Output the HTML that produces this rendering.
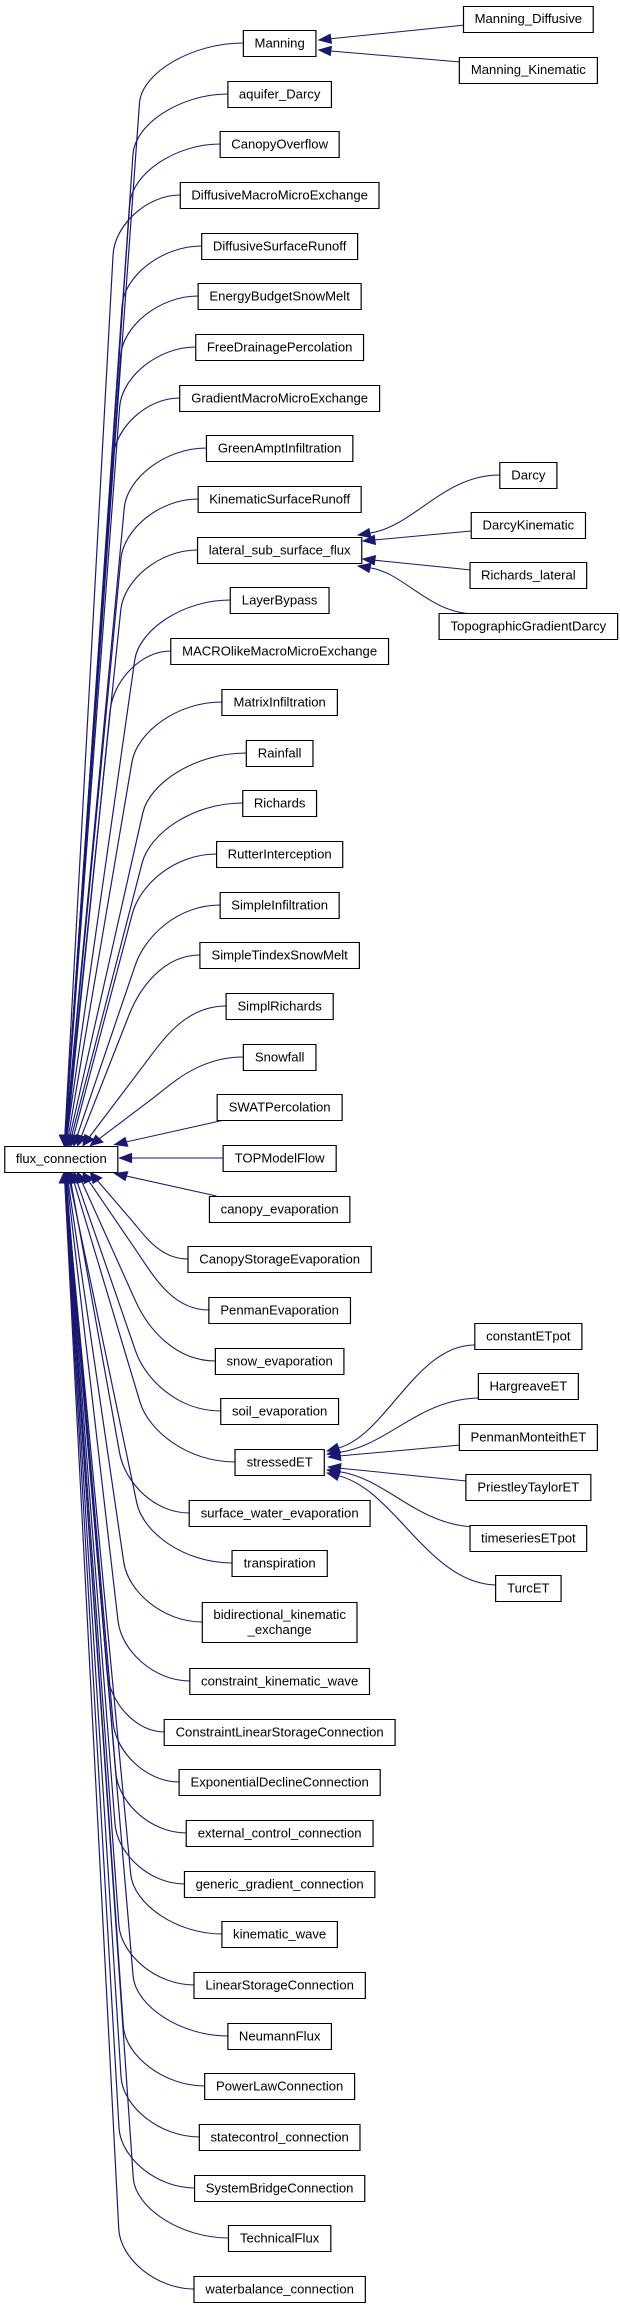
<!DOCTYPE html>
<html><head><meta charset="utf-8">
<style>
html,body{margin:0;padding:0;background:#fff;}
svg{display:block;}
text{font-family:"Liberation Sans",Arial,sans-serif;font-size:13px;fill:#000;}
</style></head>
<body>
<svg width="620" height="2308" xmlns="http://www.w3.org/2000/svg"><g id="g" transform="scale(1.19,1)"></g></svg>
<script>
(function(){
var svg=document.getElementById('g');
var NS='http://www.w3.org/2000/svg';
var cv=document.createElement('canvas').getContext('2d');
cv.font='11px "Liberation Sans", Arial, sans-serif';
function tw(s){return cv.measureText(s).width;}
function el(n,a,t){var e=document.createElementNS(NS,n);for(var k in a)e.setAttribute(k,a[k]);if(t!=null)e.textContent=t;svg.appendChild(e);return e;}
var EC='#191970';
function txt(x,y,s){el('text',{x:x,y:y,'text-anchor':'middle',textLength:tw(s).toFixed(1),lengthAdjust:'spacingAndGlyphs'},s);}
function box(cx,cy,label,h){
  var lines=label.split('\n');h=h||26;
  var w=0;lines.forEach(function(l){w=Math.max(w,tw(l));});w=Math.round(w+19);
  var x=cx-w/2,y=Math.round(cy-h/2)+0.5;
  el('rect',{x:x,y:y,width:w,height:h,fill:'#fff',stroke:'#000','stroke-width':1});
  if(lines.length==1){txt(cx,cy+4.5,label);}
  else{txt(cx,cy-3,lines[0]);txt(cx,cy+12,lines[1]);}
}
function arrow(fx,fy,tx,ty){
  var dx=tx-fx,dy=ty-fy,L=Math.sqrt(dx*dx+dy*dy)||1;var ux=dx/L,uy=dy/L;
  var bx=tx-ux*10,by=ty-uy*10;
  el('polygon',{points:tx+','+ty+' '+(bx-uy*4.5)+','+(by+ux*4.5)+' '+(bx+uy*4.5)+','+(by-ux*4.5),fill:EC,stroke:EC,'stroke-width':1});
  return [bx,by];
}
function curveEdge(sx,sy,tx,ty){
  var p2x=tx+0.4*(sx-tx),p2y=ty+(sy-ty)*0.15;
  var b=arrow(p2x,p2y,tx,ty);
  var p1x=sx-0.4*(sx-tx),p1y=sy;
  el('path',{d:'M'+sx+','+sy+' C'+p1x+','+p1y+' '+p2x+','+p2y+' '+b[0]+','+b[1],fill:'none',stroke:EC,'stroke-width':1});
}
function lineEdge(sx,sy,tx,ty){
  var b=arrow(sx,sy,tx,ty);
  el('path',{d:'M'+sx+','+sy+' L'+b[0]+','+b[1],fill:'none',stroke:EC,'stroke-width':1});
}

var top=['Manning','aquifer_Darcy','CanopyOverflow','DiffusiveMacroMicroExchange','DiffusiveSurfaceRunoff','EnergyBudgetSnowMelt','FreeDrainagePercolation','GradientMacroMicroExchange','GreenAmptInfiltration','KinematicSurfaceRunoff','lateral_sub_surface_flux','LayerBypass','MACROlikeMacroMicroExchange','MatrixInfiltration','Rainfall','Richards','RutterInterception','SimpleInfiltration','SimpleTindexSnowMelt','SimplRichards','Snowfall','SWATPercolation','TOPModelFlow','canopy_evaporation','CanopyStorageEvaporation','PenmanEvaporation','snow_evaporation','soil_evaporation','stressedET','surface_water_evaporation','transpiration'];
var rows=[];
top.forEach(function(n,i){rows.push({n:n,cy:Math.round(43+50.68*i),i:i});});
rows.push({n:'bidirectional_kinematic\n_exchange',cy:1622,i:31,h:40});
['constraint_kinematic_wave','ConstraintLinearStorageConnection','ExponentialDeclineConnection','external_control_connection','generic_gradient_connection','kinematic_wave','LinearStorageConnection','NeumannFlux','PowerLawConnection','statecontrol_connection','SystemBridgeConnection','TechnicalFlux','waterbalance_connection'].forEach(function(n,k){rows.push({n:n,cy:Math.round(1681+50.67*k),i:32+k});});

var FX=235;
var flux={l:4.5,r:99.5,t:1146.5,b:1171.5,cy:1159};
rows.forEach(function(r){
  var lines=r.n.split('\n');var w=0;lines.forEach(function(l){w=Math.max(w,tw(l));});w=Math.round(w+19);
  r.l=FX-w/2;r.h=r.h||26;r.t=r.cy-r.h/2;r.b=r.cy+r.h/2;
});
rows.forEach(function(r){
  var d=r.i-22;
  if(d==0){lineEdge(r.l,r.cy,flux.r+1,r.cy);return;}
  if(d==-1){lineEdge(r.l+6,r.b,flux.r-3,flux.t-2);return;}
  if(d==1){lineEdge(r.l+6,r.t,flux.r-3,flux.b+2);return;}
  var ad=Math.abs(d),s=d<0?-1:1;
  var tx=54+22*Math.exp(-(ad-2)/3);
  var ty=s<0?flux.t-1:flux.b+1;
  var sx=r.l,sy=r.cy;
  var dy=Math.min(60,0.45*Math.abs(ty-sy));
  var kx=tx+0.42*(sx-tx),ky=sy-s*dy;
  var ux=tx-kx,uy=ty-ky,L=Math.sqrt(ux*ux+uy*uy);ux/=L;uy/=L;
  var b=arrow(kx,ky,tx,ty);
  var cl=0.5*dy;
  var p1x=sx-0.5*(sx-kx),p2x=kx-ux*cl,p2y=ky-uy*cl;
  el('path',{d:'M'+sx+','+sy+' C'+p1x+','+sy+' '+p2x+','+p2y+' '+kx+','+ky+' L'+b[0]+','+b[1],fill:'none',stroke:EC,'stroke-width':1});
});
var RX=444;
lineEdge(391,25,268,40);
lineEdge(387,62,268,50);
curveEdge(420,475,301,535);
lineEdge(396,531,305,541);
lineEdge(396,570,305,559);
curveEdge(400,614,301,566);
curveEdge(399,1345,275,1451);
curveEdge(404,1398,275,1454);
lineEdge(387,1445,276,1457);
lineEdge(392,1481,276,1467);
curveEdge(402,1527,275,1470);
curveEdge(418,1585,275,1473);

box(51.5,1158.5,'flux_connection');
rows.forEach(function(r){box(FX,r.cy,r.n,r.h);});
box(RX,18.5,'Manning_Diffusive');
box(RX,69.5,'Manning_Kinematic');
box(RX,475,'Darcy');
box(RX,525,'DarcyKinematic');
box(RX,575,'Richards_lateral');
box(RX,626,'TopographicGradientDarcy');
box(RX,1336,'constantETpot');
box(RX,1386,'HargreaveET');
box(RX,1437,'PenmanMonteithET');
box(RX,1487,'PriestleyTaylorET');
box(RX,1538,'timeseriesETpot');
box(RX,1588,'TurcET');
})();
</script>
</body></html>
